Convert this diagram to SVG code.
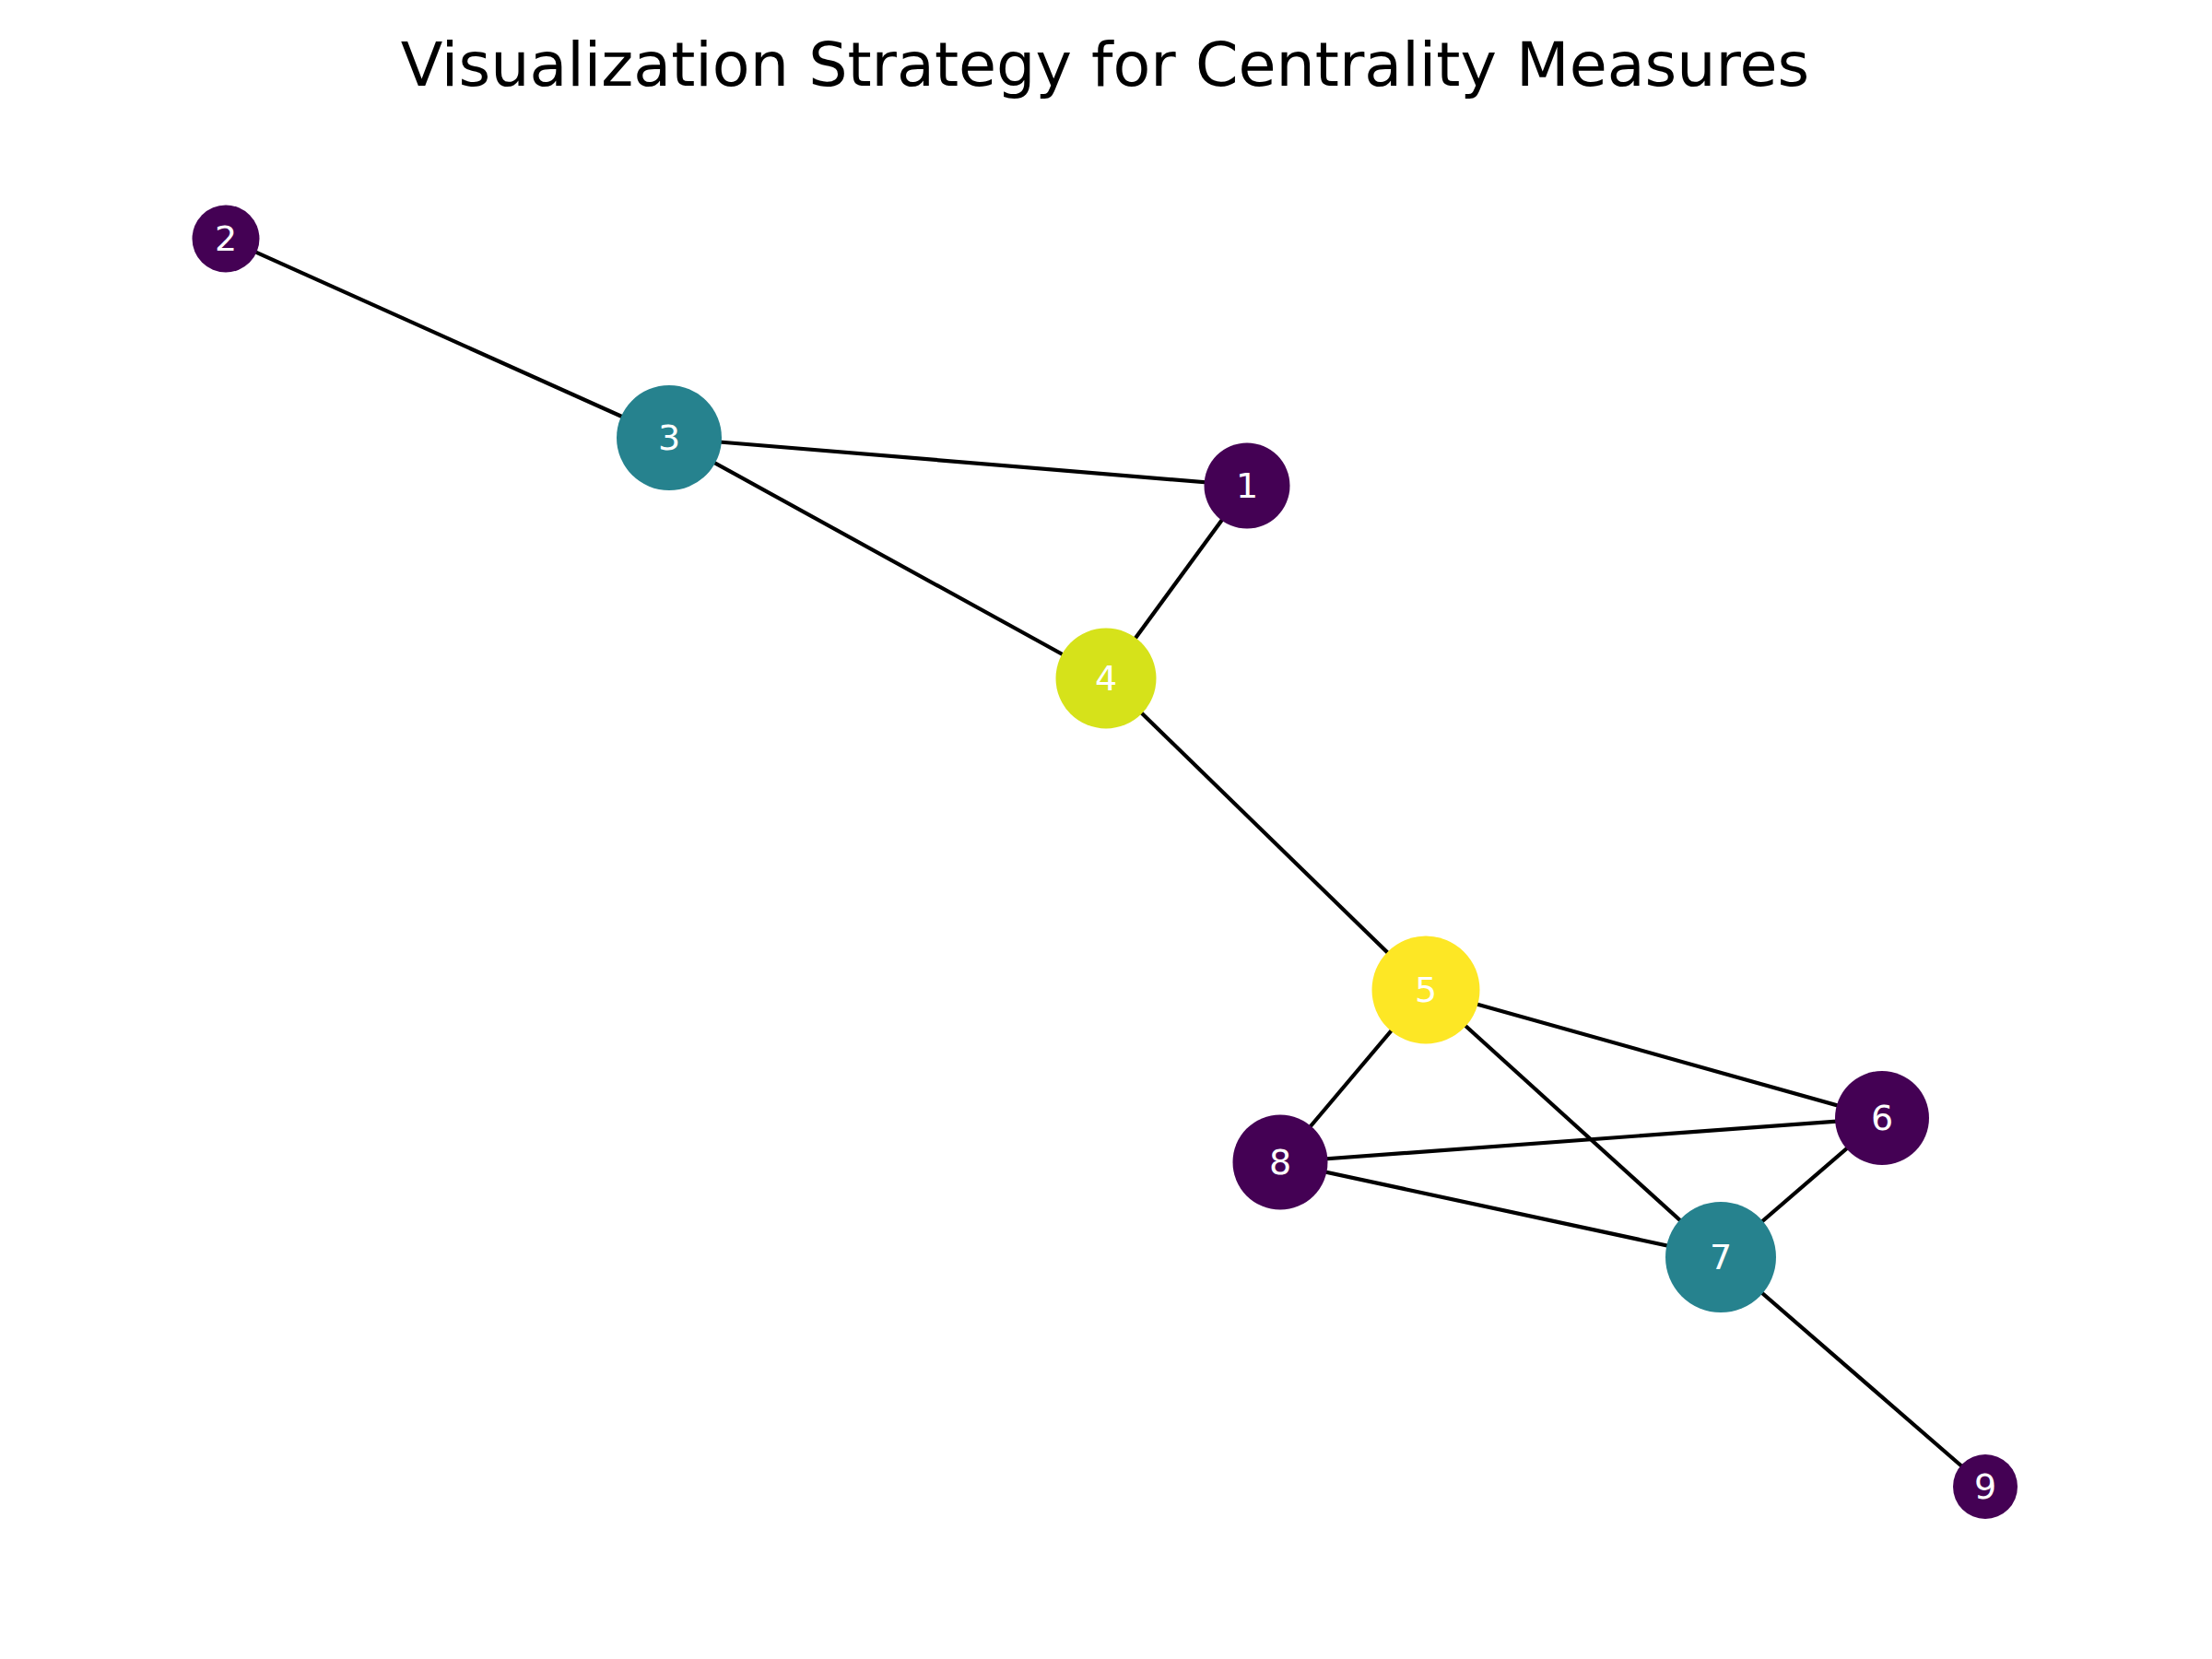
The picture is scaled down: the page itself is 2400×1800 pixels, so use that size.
<svg xmlns="http://www.w3.org/2000/svg" width="2400" height="1800" viewBox="0 0 2400 1800">
<style>
.title{font-family:"DejaVu Sans",sans-serif;font-size:66.7px;fill:#000;text-anchor:middle}
.edge{stroke:#000;stroke-width:4.2;fill:none}
.lbl{font-family:"DejaVu Sans",sans-serif;font-size:38px;fill:#fff;text-anchor:middle}
.c0{fill:#440154}
.c5{fill:#26828e}
.c9{fill:#d6e21a}
.c10{fill:#fde725}
</style>
<rect width="2400" height="1800" fill="#fff"/>
<text class="title" x="1199" y="93">Visualization Strategy for Centrality Measures</text>
<g id="edges">
<line class="edge" x1="245" y1="259" x2="726" y2="475"/>
<line class="edge" x1="726" y1="475" x2="1353" y2="527"/>
<line class="edge" x1="726" y1="475" x2="1200" y2="736"/>
<line class="edge" x1="1353" y1="527" x2="1200" y2="736"/>
<line class="edge" x1="1200" y1="736" x2="1547" y2="1074"/>
<line class="edge" x1="1547" y1="1074" x2="2042" y2="1213"/>
<line class="edge" x1="1547" y1="1074" x2="1389" y2="1261"/>
<line class="edge" x1="1547" y1="1074" x2="1867" y2="1364"/>
<line class="edge" x1="1389" y1="1261" x2="2042" y2="1213"/>
<line class="edge" x1="1389" y1="1261" x2="1867" y2="1364"/>
<line class="edge" x1="2042" y1="1213" x2="1867" y2="1364"/>
<line class="edge" x1="1867" y1="1364" x2="2154" y2="1613"/>
</g>
<g id="node1"><circle class="c0" cx="1353" cy="527" r="46.5"/><text class="lbl" x="1353" y="540">1</text></g>
<g id="node2"><circle class="c0" cx="245" cy="259" r="36.5"/><text class="lbl" x="245" y="272">2</text></g>
<g id="node3"><circle class="c5" cx="726" cy="475" r="57"/><text class="lbl" x="726" y="488">3</text></g>
<g id="node4"><circle class="c9" cx="1200" cy="736" r="54.5"/><text class="lbl" x="1200" y="749">4</text></g>
<g id="node5"><circle class="c10" cx="1547" cy="1074" r="58.5"/><text class="lbl" x="1547" y="1087">5</text></g>
<g id="node6"><circle class="c0" cx="2042" cy="1213" r="51"/><text class="lbl" x="2042" y="1226">6</text></g>
<g id="node7"><circle class="c5" cx="1867" cy="1364" r="60"/><text class="lbl" x="1867" y="1377">7</text></g>
<g id="node8"><circle class="c0" cx="1389" cy="1261" r="51.5"/><text class="lbl" x="1389" y="1274">8</text></g>
<g id="node9"><circle class="c0" cx="2154" cy="1613" r="35"/><text class="lbl" x="2154" y="1626">9</text></g>
</svg>
